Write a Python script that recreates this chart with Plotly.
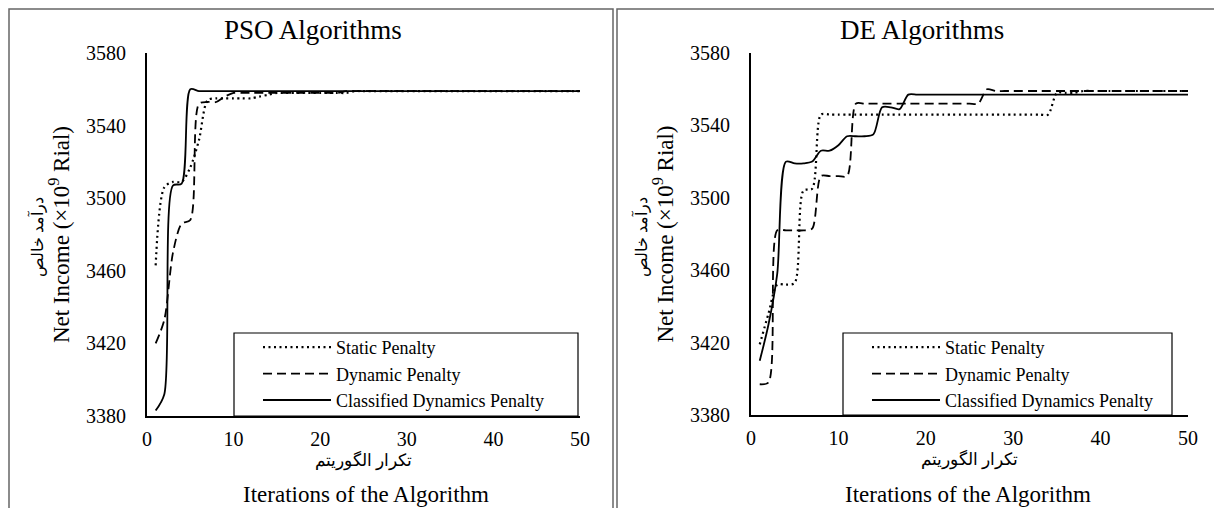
import plotly.graph_objects as go

W, H = 1214, 508

iterations = list(range(1, 51))

pso_static = [3463, 3506, 3509, 3509, 3517, 3532, 3554, 3555, 3555, 3555,
              3555, 3555, 3556, 3557, 3558, 3558, 3558, 3558, 3558, 3558,
              3558, 3558, 3558, 3559, 3559, 3559, 3559, 3559, 3559, 3559,
              3559, 3559, 3559, 3559, 3559, 3559, 3559, 3559, 3559, 3559,
              3559, 3559, 3559, 3559, 3559, 3559, 3559, 3559, 3559, 3559]
pso_dynamic = [3420, 3433, 3470, 3486, 3488, 3552, 3553, 3553, 3556, 3558,
               3558, 3558, 3558, 3558, 3558, 3558, 3558, 3558, 3558, 3558,
               3558, 3558, 3559, 3559, 3559, 3559, 3559, 3559, 3559, 3559,
               3559, 3559, 3559, 3559, 3559, 3559, 3559, 3559, 3559, 3559,
               3559, 3559, 3559, 3559, 3559, 3559, 3559, 3559, 3559, 3559]
pso_classified = [3383, 3392, 3507, 3508, 3560, 3559, 3559, 3559, 3559, 3559,
                  3559, 3559, 3559, 3559, 3559, 3559, 3559, 3559, 3559, 3559,
                  3559, 3559, 3559, 3559, 3559, 3559, 3559, 3559, 3559, 3559,
                  3559, 3559, 3559, 3559, 3559, 3559, 3559, 3559, 3559, 3559,
                  3559, 3559, 3559, 3559, 3559, 3559, 3559, 3559, 3559, 3559]

de_static = [3419, 3436, 3452, 3452, 3453, 3504, 3505, 3546, 3546, 3546,
             3546, 3546, 3546, 3546, 3546, 3546, 3546, 3546, 3546, 3546,
             3546, 3546, 3546, 3546, 3546, 3546, 3546, 3546, 3546, 3546,
             3546, 3546, 3546, 3546, 3558, 3558, 3558, 3559, 3559, 3559,
             3559, 3559, 3559, 3559, 3559, 3559, 3559, 3559, 3559, 3559]
de_dynamic = [3397, 3398, 3482, 3482, 3482, 3482, 3483, 3512, 3512, 3512,
              3512, 3552, 3552, 3552, 3552, 3552, 3552, 3552, 3552, 3552,
              3552, 3552, 3552, 3552, 3552, 3552, 3560, 3559, 3559, 3559,
              3559, 3559, 3559, 3559, 3559, 3559, 3559, 3559, 3559, 3559,
              3559, 3559, 3559, 3559, 3559, 3559, 3559, 3559, 3559, 3559]
de_classified = [3410, 3430, 3458, 3520, 3519, 3519, 3520, 3526, 3526, 3529,
                 3534, 3534, 3534, 3535, 3550, 3550, 3549, 3557, 3557, 3557,
                 3557, 3557, 3557, 3557, 3557, 3557, 3557, 3557, 3557, 3557,
                 3557, 3557, 3557, 3557, 3557, 3557, 3557, 3557, 3557, 3557,
                 3557, 3557, 3557, 3557, 3557, 3557, 3557, 3557, 3557, 3557]

series_names = ["Static Penalty", "Dynamic Penalty", "Classified Dynamics Penalty"]
panel_titles = ["PSO Algorithms", "DE Algorithms"]
x_ticks = [0, 10, 20, 30, 40, 50]
y_ticks = [3380, 3420, 3460, 3500, 3540, 3580]
y_title_en = "Net Income (×10<sup>9</sup> Rial)"
y_title_fa = "درآمد خالص"
x_title_fa = "تکرار الگوریتم"
x_title_en = "Iterations of the Algorithm"

FONT = "Liberation Serif, Times New Roman, serif"
styles = [dict(color="black", width=2.2, dash="2px,3.5px"),
          dict(color="black", width=1.8, dash="9px,5px"),
          dict(color="black", width=1.8)]

def px(x):
    return x / W

def py(y):
    return 1 - y / H

fig = go.Figure()
panels = [
    ("x", "y", "legend", [pso_static, pso_dynamic, pso_classified]),
    ("x2", "y2", "legend2", [de_static, de_dynamic, de_classified]),
]
for xa, ya, lg, data in panels:
    for name, vals, st in zip(series_names, data, styles):
        fig.add_trace(go.Scatter(
            x=iterations, y=vals, name=name, mode="lines",
            line=dict(shape="spline", smoothing=0.8, **st),
            xaxis=xa, yaxis=ya, legend=lg, showlegend=True,
        ))

axis_common = dict(showline=True, linecolor="black", linewidth=1.8,
                   showgrid=False, zeroline=False, ticks="", automargin=False,
                   tickfont=dict(family=FONT, size=20, color="black"))

legend_common = dict(xanchor="left", yanchor="top", itemwidth=68,
                     bgcolor="rgba(0,0,0,0)", borderwidth=0,
                     font=dict(family=FONT, size=18, color="black"),
                     tracegroupgap=0)

fig.update_layout(
    width=W, height=H,
    margin=dict(l=0, r=0, t=0, b=0, autoexpand=False),
    paper_bgcolor="white", plot_bgcolor="white",
    font=dict(family=FONT, color="black"),
    xaxis=dict(domain=[px(147), px(580)], range=[0, 50], tickvals=x_ticks,
               anchor="y", ticklabelstandoff=4,
               title=dict(text=x_title_fa, standoff=0,
                          font=dict(family=FONT, size=17)),
               **axis_common),
    yaxis=dict(domain=[py(416), py(53)], range=[3380, 3580], tickvals=y_ticks,
               anchor="x", ticklabelstandoff=15,
               title=dict(text=y_title_en, standoff=10,
                          font=dict(family=FONT, size=23)),
               **axis_common),
    xaxis2=dict(domain=[px(751), px(1188)], range=[0, 50], tickvals=x_ticks,
                anchor="y2", ticklabelstandoff=4,
                title=dict(text=x_title_fa, standoff=0,
                           font=dict(family=FONT, size=17)),
                **axis_common),
    yaxis2=dict(domain=[py(415), py(53)], range=[3380, 3580], tickvals=y_ticks,
                anchor="x2", ticklabelstandoff=15,
                title=dict(text=y_title_en, standoff=10,
                           font=dict(family=FONT, size=23)),
                **axis_common),
    legend=dict(x=px(258), y=py(329), **legend_common),
    legend2=dict(x=px(867), y=py(329), **legend_common),
)

# panel frames
fig.add_shape(type="rect", xref="paper", yref="paper",
              x0=px(9), x1=px(613), y0=-0.05, y1=py(9),
              line=dict(color="#666", width=1.5), layer="below")
fig.add_shape(type="rect", xref="paper", yref="paper",
              x0=px(617), x1=1.05, y0=-0.05, y1=py(9),
              line=dict(color="#666", width=1.5), layer="below")
# legend boxes
fig.add_shape(type="rect", xref="paper", yref="paper",
              x0=px(234), x1=px(578), y0=py(416), y1=py(333),
              line=dict(color="black", width=1.2), fillcolor="white", layer="below")
fig.add_shape(type="rect", xref="paper", yref="paper",
              x0=px(843), x1=px(1172), y0=py(415), y1=py(333),
              line=dict(color="black", width=1.2), fillcolor="white", layer="below")

# panel titles
for t, cx in zip(panel_titles, [313, 922]):
    fig.add_annotation(text=t, xref="paper", yref="paper", x=px(cx), y=py(30),
                       xanchor="center", yanchor="middle", showarrow=False,
                       font=dict(family=FONT, size=27, color="black"))
# second line of the x-axis titles
for cx in [366, 968]:
    fig.add_annotation(text=x_title_en, xref="paper", yref="paper", x=px(cx), y=py(494),
                       xanchor="center", yanchor="middle", showarrow=False,
                       font=dict(family=FONT, size=23, color="black"))
# first line of the y-axis titles
for cx in [37, 641]:
    fig.add_annotation(text=y_title_fa, xref="paper", yref="paper", x=px(cx), y=py(237),
                       xanchor="center", yanchor="middle", showarrow=False, textangle=-90,
                       font=dict(family=FONT, size=16, color="black"))

fig.write_html("out.html",
               config={"displayModeBar": False},
               post_script="document.body.style.margin='0px';"
                           "document.body.style.overflow='hidden';")
